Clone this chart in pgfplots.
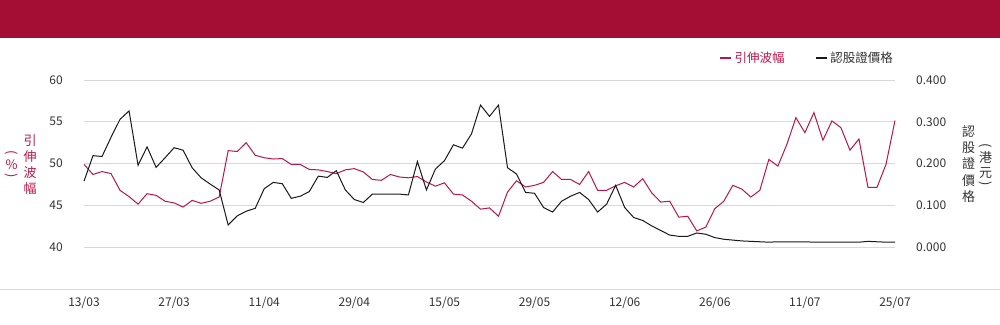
\documentclass[border=0pt]{standalone}
\usepackage{fontspec}
\setmainfont{Noto Sans CJK TC}
\usepackage{pgfplots}
\pgfplotsset{compat=1.18}
\usepackage{pgfplotstable}
\definecolor{banner}{HTML}{A50E34}
\definecolor{volred}{HTML}{B8164A}
\definecolor{gridc}{HTML}{D9D9D9}
\definecolor{txt}{HTML}{333333}
\pgfplotstableread{
i vol price
0 49.9 0.158
1 48.7 0.219
2 49.05 0.217
3 48.8 0.263
4 46.8 0.306
5 46.05 0.326
6 45.15 0.196
7 46.4 0.240
8 46.2 0.191
9 45.5 0.214
10 45.3 0.238
11 44.8 0.232
12 45.6 0.190
13 45.25 0.166
14 45.5 0.151
15 46.0 0.137
16 51.55 0.053
17 51.45 0.075
18 52.5 0.086
19 51.0 0.093
20 50.7 0.140
21 50.55 0.155
22 50.6 0.152
23 49.9 0.117
24 49.9 0.122
25 49.3 0.133
26 49.25 0.170
27 49.05 0.167
28 48.8 0.183
29 49.25 0.137
30 49.4 0.114
31 49.0 0.107
32 48.1 0.127
33 48.0 0.127
34 48.7 0.127
35 48.4 0.127
36 48.3 0.125
37 48.45 0.205
38 47.8 0.137
39 47.3 0.187
40 47.7 0.207
41 46.35 0.245
42 46.25 0.237
43 45.5 0.271
44 44.55 0.340
45 44.7 0.313
46 43.7 0.340
47 46.6 0.190
48 47.95 0.175
49 47.2 0.131
50 47.4 0.129
51 47.75 0.095
52 49.05 0.084
53 48.1 0.110
54 48.1 0.122
55 47.5 0.131
56 49.05 0.114
57 46.8 0.084
58 46.8 0.103
59 47.35 0.148
60 47.75 0.095
61 47.2 0.071
62 48.2 0.064
63 46.5 0.051
64 45.4 0.040
65 45.5 0.029
66 43.6 0.026
67 43.7 0.026
68 41.95 0.034
69 42.4 0.031
70 44.6 0.023
71 45.5 0.019
72 47.4 0.017
73 46.95 0.015
74 46.0 0.014
75 46.8 0.013
76 50.5 0.012
77 49.7 0.013
78 52.3 0.013
79 55.5 0.013
80 53.7 0.013
81 56.1 0.012
82 52.8 0.012
83 55.1 0.012
84 54.3 0.012
85 51.6 0.012
86 52.95 0.012
87 47.15 0.014
88 47.15 0.013
89 49.9 0.012
90 55.15 0.012
}\datatable
\begin{document}
\begin{tikzpicture}
\path[use as bounding box] (0pt,0pt) rectangle (1000pt,324pt);
\fill[banner] (0pt,286pt) rectangle (1000pt,324pt);
\draw[gridc, line width=1pt] (0pt,35pt) -- (1000pt,35pt);
\begin{axis}[
  at={(84pt,35pt)}, anchor=south west,
  scale only axis, width=811pt, height=209pt,
  xmin=0, xmax=90, ymin=35, ymax=60,
  axis line style={draw=none},
  major tick length=0pt,
  ytick={40,45,50,55,60},
  ymajorgrids, grid style={gridc, line width=0.9pt},
  xtick={0,10,...,90},
  xticklabels={13/03,27/03,11/04,29/04,15/05,29/05,12/06,26/06,11/07,25/07},
  xticklabel style={anchor=center, yshift=-14pt, text=txt, font=\fontsize{12}{14}\selectfont},
  yticklabel style={anchor=east, inner sep=0pt, xshift=-21pt, text=txt, font=\fontsize{12}{14}\selectfont},
  /pgf/number format/assume math mode=true,
  clip=false,
]
\addplot[volred, line width=1pt] table[x=i, y=vol] {\datatable};
\end{axis}
\begin{axis}[
  at={(84pt,35pt)}, anchor=south west,
  scale only axis, width=811pt, height=209pt,
  xmin=0, xmax=90, ymin=-0.1, ymax=0.4,
  axis line style={draw=none},
  major tick length=0pt,
  xtick=\empty,
  ytick={0,0.1,0.2,0.3,0.4},
  yticklabel pos=right,
  yticklabel style={anchor=west, inner sep=0pt, xshift=21pt, text=txt, font=\fontsize{12}{14}\selectfont,
    /pgf/number format/.cd, fixed, fixed zerofill, precision=3},
  /pgf/number format/assume math mode=true,
  clip=false,
  legend style={draw=none, fill=none, at={(0.779,1.105)}, anchor=west,
    legend columns=2, font=\fontsize{12.5}{14}\selectfont,
    /tikz/every even column/.append style={column sep=28pt}},
  legend image code/.code={\draw[#1, line width=2.7pt] (0pt,0pt) -- (11pt,0pt);},
]
\addlegendimage{volred}
\addlegendentry{\textcolor{volred}{引伸波幅}}
\addplot[black!90, line width=1pt] table[x=i, y=price] {\datatable};
\addlegendentry{\textcolor{txt}{認股證價格}}
\end{axis}
\node[volred, align=center, inner sep=0pt, font=\fontsize{13}{16}\selectfont] at (30pt,159pt) {引\\伸\\波\\幅};
\begin{scope}[every node/.style={volred, inner sep=0pt, font=\fontsize{13}{16}\selectfont}]
\node[rotate=-90] at (11.5pt,171.5pt) {(};
\node at (11.5pt,159pt) {\%};
\node[rotate=-90] at (11.5pt,148pt) {)};
\end{scope}
\node[txt, align=center, inner sep=0pt, font=\fontsize{13}{16.25}\selectfont] at (968.5pt,160pt) {認\\股\\證\\價\\格};
\begin{scope}[every node/.style={txt, inner sep=0pt, font=\fontsize{13}{16}\selectfont}]
\node[rotate=-90] at (985.5pt,178.5pt) {(};
\node at (985.5pt,166pt) {港};
\node at (985.5pt,150.5pt) {元};
\node[rotate=-90] at (985.5pt,140.5pt) {)};
\end{scope}
\end{tikzpicture}
\end{document}
